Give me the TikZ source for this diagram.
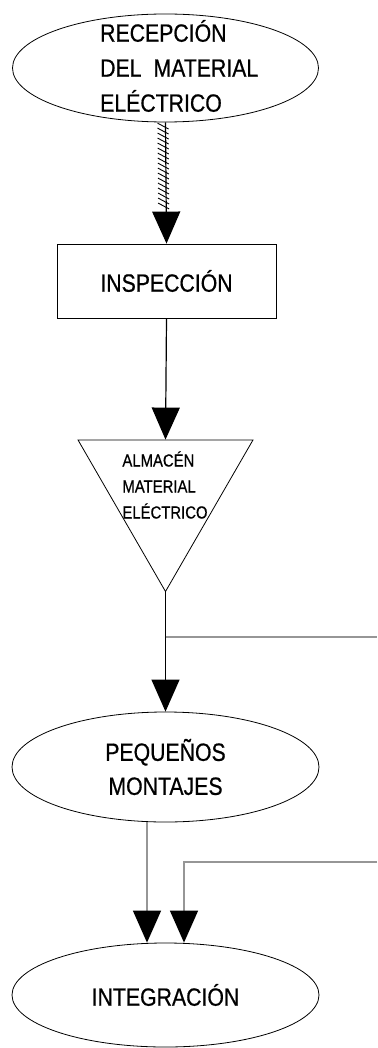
\documentclass[tikz,border=0pt]{standalone}
\usepackage{fontspec}
\setmainfont{Liberation Sans}[FakeStretch=0.85,FakeBold=0.6]
\usetikzlibrary{arrows.meta,shapes.geometric,decorations.markings}

\definecolor{flowgrey}{RGB}{150,150,150}

\tikzset{
    oval/.style={draw, ellipse, line width=0.8pt, inner sep=0pt},
    boxstep/.style={draw, rectangle, line width=0.8pt, inner sep=0pt},
    store/.style={draw, regular polygon, regular polygon sides=3, shape border rotate=180,
        line width=0.8pt, inner sep=0pt, minimum size=202pt},
    bigtxt/.style={font=\fontsize{25}{34}\selectfont, align=center, inner sep=0pt},
    smalltxt/.style={font=\fontsize{17.5}{26}\selectfont, align=left, inner sep=0pt},
    flow/.style={line width=1.2pt, -{Triangle[width=28pt,length=32pt]}},
    greyflow/.style={draw=flowgrey, line width=1.5pt, -{Triangle[width=28pt,length=32pt,color=black]}},
    greyline/.style={draw=flowgrey, line width=1.5pt},
    hatched/.style={postaction={decorate}, decoration={markings,
        mark=between positions 0.03 and 0.72 step 5pt with {\draw[-, line width=0.9pt] (-3pt,-8pt) -- (3pt,3pt);}}}
}

\begin{document}
\begin{tikzpicture}[x=1pt,y=-1pt]
    \useasboundingbox (0,0) rectangle (377,1048);

    % Process nodes
    \node[oval, minimum width=306pt, minimum height=108pt] (rec) at (165.5,68) {};
    \node[bigtxt, font=\fontsize{25}{35}\selectfont, align=left, anchor=west] (rectxt) at (100,66) {RECEPCIÓN\\DEL\hspace{12pt}MATERIAL\\ELÉCTRICO};
    \node[boxstep, minimum width=219pt, minimum height=74pt, bigtxt] (insp) at (166.5,281) {INSPECCIÓN};
    \node[store] (alm) at (165.5,490.5) {};
    \node[smalltxt] (almtxt) at (165,485) {ALMACÉN\\MATERIAL\\ELÉCTRICO};
    \node[oval, minimum width=307pt, minimum height=110pt, bigtxt] (peq) at (165.5,767) {PEQUEÑOS\\MONTAJES};
    \node[oval, minimum width=307pt, minimum height=104pt, bigtxt] (integ) at (165.5,995) {INTEGRACIÓN};

    % Branch points
    \coordinate (br1) at (165.5,637);
    \coordinate (out1) at (377,637);
    \coordinate (in2) at (377,862);

    % Connectors
    \draw[flow, hatched] (rec.south) -- (insp.north);
    \draw[flow] (insp.south) -- (alm.north);
    \draw[flow] (alm.south) -- (peq.north);
    \draw[greyline] (br1) -- (out1);
    \draw[greyflow] ([xshift=-18.5pt]peq.south) -- ([xshift=-18.5pt]integ.north);
    \draw[greyflow] (in2) -| ([xshift=18.5pt]integ.north);
\end{tikzpicture}
\end{document}
